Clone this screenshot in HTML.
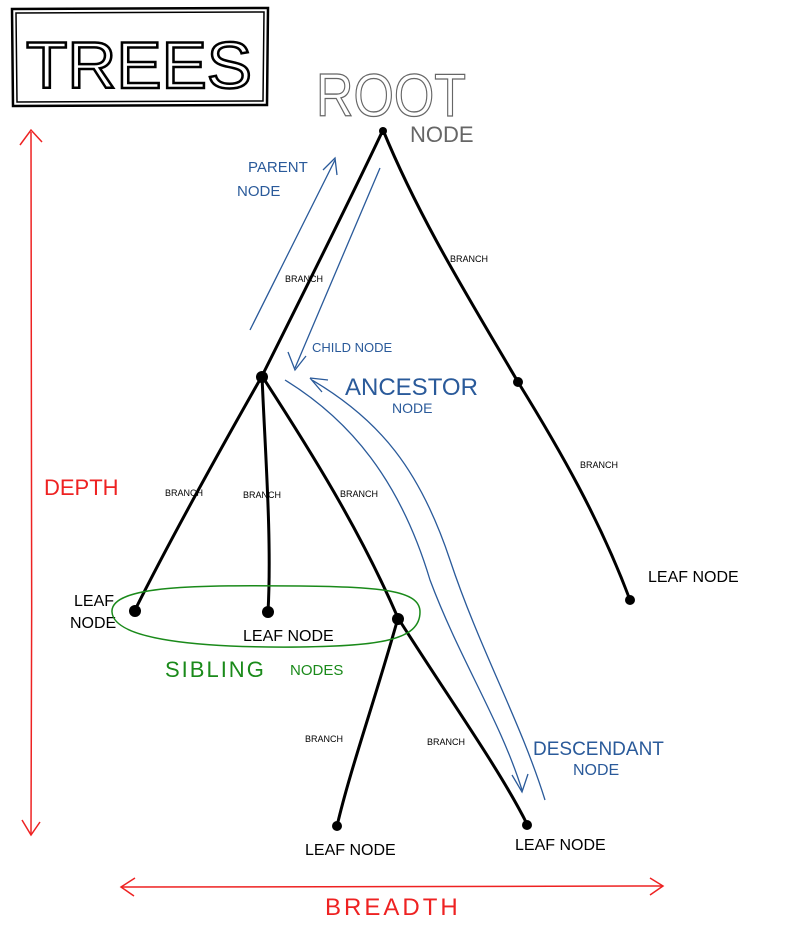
<!DOCTYPE html>
<html><head><meta charset="utf-8"><style>
html,body{margin:0;padding:0;background:#fff;}
svg{display:block;}
text{font-family:"Liberation Sans",sans-serif;}
</style></head><body>
<svg width="795" height="928" viewBox="0 0 795 928" xmlns="http://www.w3.org/2000/svg">
<g fill="none" stroke="#000" stroke-width="2.5">
<path d="M12 9 L268 8 L267 105 L13 106 Z"/>
<path d="M16 13 L264 12 L263 101 L17 102 Z" stroke-width="1.5"/>
</g>
<text x="26" y="88" font-size="66" fill="none" textLength="226" lengthAdjust="spacingAndGlyphs" stroke="#000" stroke-width="2.5">TREES</text>
<text x="316" y="116" font-size="60" fill="none" stroke="#666" stroke-width="1.3" textLength="150" lengthAdjust="spacingAndGlyphs">ROOT</text>
<text x="410" y="142" font-size="22" fill="#666">NODE</text>
<g fill="none" stroke="#000" stroke-width="3" stroke-linecap="round">
<path d="M383 130 C350 200 300 300 262 376"/>
<path d="M383 130 C420 220 470 300 518 382"/>
<path d="M518 382 C560 450 600 520 630 600"/>
<path d="M262 376 C220 450 170 540 135 610"/>
<path d="M262 376 C265 450 272 540 268 612"/>
<path d="M262 376 C310 450 360 530 398 618"/>
<path d="M398 618 C375 700 350 770 337 826"/>
<path d="M398 618 C450 700 500 770 527 824"/>
</g>
<g fill="#000">
<circle cx="383" cy="131" r="4"/><circle cx="262" cy="377" r="6"/><circle cx="518" cy="382" r="5"/>
<circle cx="630" cy="600" r="5"/><circle cx="135" cy="611" r="6"/><circle cx="268" cy="612" r="6"/>
<circle cx="398" cy="619" r="6"/><circle cx="337" cy="826" r="5"/><circle cx="527" cy="825" r="5"/>
</g>
<g font-size="9" fill="#000">
<text x="285" y="282">BRANCH</text><text x="450" y="262">BRANCH</text>
<text x="580" y="468">BRANCH</text><text x="165" y="496">BRANCH</text>
<text x="243" y="498">BRANCH</text><text x="340" y="497">BRANCH</text>
<text x="305" y="742">BRANCH</text><text x="427" y="745">BRANCH</text>
</g>
<g font-size="16" fill="#000">
<text x="648" y="582">LEAF NODE</text>
<text x="74" y="606">LEAF</text><text x="70" y="628">NODE</text>
<text x="243" y="641">LEAF NODE</text>
<text x="305" y="855">LEAF NODE</text>
<text x="515" y="850">LEAF NODE</text>
</g>
<g fill="none" stroke="#e22" stroke-width="1.5">
<path d="M31 132 C30 400 33 600 31 834"/>
<path d="M20 145 L31 130 L42 142"/>
<path d="M22 820 L31 835 L40 822"/>
<path d="M122 887 C300 886 500 888 662 886"/>
<path d="M135 878 L121 887 L134 896"/>
<path d="M650 878 L663 886 L650 895"/>
</g>
<text x="44" y="495" font-size="22" fill="#e22">DEPTH</text>
<text x="325" y="915" font-size="24" fill="#e22" letter-spacing="3">BREADTH</text>
<path d="M112 612 C110 585 200 585 300 586 C380 587 420 590 420 612 C420 640 380 646 300 647 C200 648 114 640 112 612 Z" fill="none" stroke="#1a8a1a" stroke-width="1.5"/>
<text x="165" y="677" font-size="22" fill="#1a8a1a" letter-spacing="2">SIBLING</text>
<text x="290" y="675" font-size="15" fill="#1a8a1a">NODES</text>
<g fill="none" stroke="#2a5a9a" stroke-width="1.3">
<path d="M250 330 C280 270 310 210 335 160"/>
<path d="M323 170 L335 158 L337 175"/>
<path d="M380 168 C350 240 320 310 295 368"/>
<path d="M288 352 L295 370 L306 356"/>
<path d="M312 380 C380 420 420 470 450 560 C480 650 520 720 545 800"/>
<path d="M285 380 C350 420 400 480 430 580 C460 660 500 720 522 790"/>
<path d="M310 378 L322 392"/><path d="M310 378 L328 380"/>
<path d="M512 775 L522 792 L528 774"/>
</g>
<g fill="#2a5a9a">
<text x="248" y="172" font-size="15">PARENT</text>
<text x="237" y="196" font-size="15">NODE</text>
<text x="312" y="352" font-size="13">CHILD NODE</text>
<text x="345" y="395" font-size="24">ANCESTOR</text>
<text x="392" y="413" font-size="14">NODE</text>
<text x="533" y="755" font-size="19">DESCENDANT</text>
<text x="573" y="775" font-size="16">NODE</text>
</g>
</svg>
</body></html>
